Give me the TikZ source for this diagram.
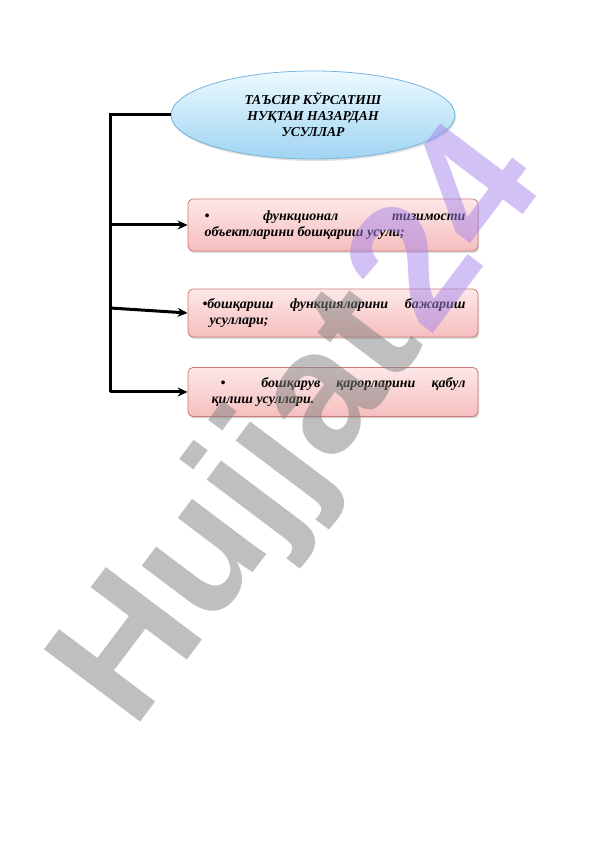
\documentclass[tikz,border=0pt]{standalone}
\usepackage{fontspec}
\setmainfont{Liberation Serif}
\newfontfamily\wmfont{Liberation Sans}
\usetikzlibrary{arrows.meta,positioning,shapes.geometric,shadows}
\definecolor{skyfill}{RGB}{160,212,242}
\definecolor{skytop}{RGB}{236,250,255}
\definecolor{skyline}{RGB}{120,180,220}
\definecolor{pinktop}{RGB}{253,232,232}
\definecolor{pinkbot}{RGB}{246,190,190}
\definecolor{pinkline}{RGB}{205,120,120}
\definecolor{wmgray}{RGB}{128,128,128}
\definecolor{wmviolet}{RGB}{150,110,230}

\begin{document}
\begin{tikzpicture}[x=1pt,y=1pt,
    link/.style={line width=3pt,black},
    arr/.style={link,-{Stealth[length=10pt,width=9pt]}},
    head/.style={ellipse,draw=skyline,thick,top color=skytop,bottom color=skyfill,
        minimum width=284pt,minimum height=88pt,inner sep=0pt,align=center,
        font=\fontsize{13.6}{16}\selectfont\bfseries\itshape,
        drop shadow={opacity=0.25,shadow xshift=1pt,shadow yshift=-2pt}},
    method/.style={rectangle,rounded corners=5pt,draw=pinkline,thick,
        top color=pinktop,bottom color=pinkbot,minimum width=290pt,
        text width=265pt,inner xsep=12.5pt,inner ysep=4pt,align=justify,
        font=\fontsize{14}{16.5}\selectfont\bfseries\itshape,
        drop shadow={opacity=0.3,shadow xshift=1pt,shadow yshift=-2pt}}]
    \useasboundingbox (0,0) rectangle (596,842);

    \node[head] (usul) at (313,727)
        {ТАЪСИР КЎРСАТИШ\\НУҚТАИ НАЗАРДАН\\УСУЛЛАР};

    \node[method,minimum height=52pt] (b1) at (333,617)
        {\hspace*{4pt}•\hfill функционал\hfill тизимости\linebreak
         \hspace*{4pt}объектларини бошқариш усули;};
    \node[method,minimum height=48pt] (b2) at (333,529)
        {\hspace*{2pt}•бошқариш функцияларини бажариш\linebreak
         \hspace*{9pt}усуллари;};
    \node[method,minimum height=49pt] (b3) at (333,450)
        {\hspace*{20pt}•\hspace{36pt}бошқарув қарорларини қабул\linebreak
         \hspace*{11pt}қилиш усуллари.};

    \coordinate (top) at (110,727);
    \coordinate (j1)  at (110,617);
    \coordinate (j2)  at (110,534);
    \coordinate (j3)  at (110,450);

    \draw[link] (usul.west) -- (top) -- (j3);
    \draw[arr] (j1) -- (b1.west);
    \draw[arr] (j2) -- (b2.west);
    \draw[arr] (j3) -- (b3.west);

    % watermark
    \node[rotate=53,anchor=base west,inner sep=0pt,text opacity=0.5,
        font=\wmfont\bfseries\fontsize{175}{175}\selectfont] (wm) at (133,110)
        {\textcolor{wmgray}{Hujjat}\hspace{0.04em}\textcolor{wmviolet!85!white}{24}};
\end{tikzpicture}
\end{document}
